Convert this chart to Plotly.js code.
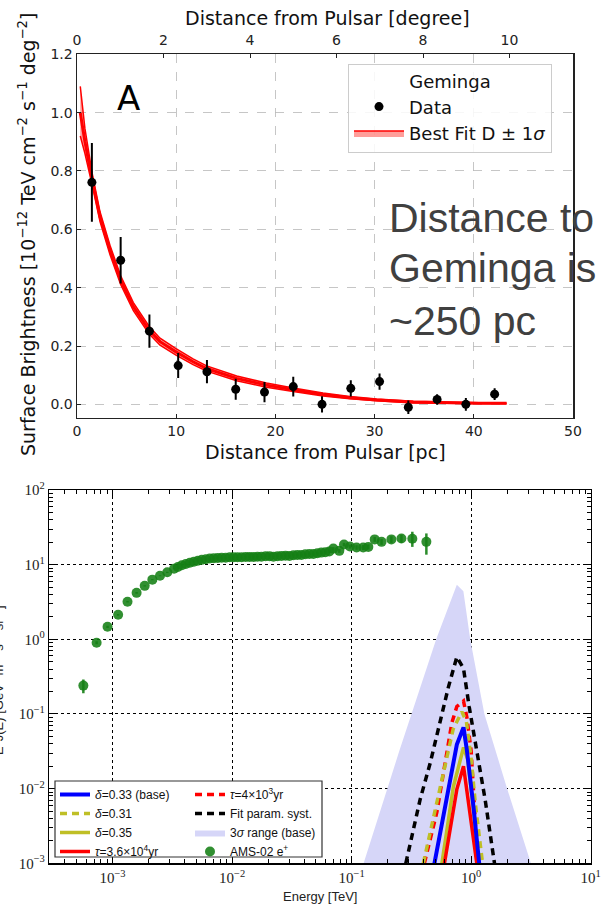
<!DOCTYPE html>
<html>
<head>
<meta charset="utf-8">
<script src="https://cdn.plot.ly/plotly-3.0.1.min.js"></script>
<style>html,body{margin:0;padding:0;background:#fff;} #chart{width:606px;height:906px;}</style>
</head>
<body>
<div id="chart"></div>
<script>
// ---------- Panel A: Geminga surface brightness ----------
const pcDist     = [1.5, 4.4, 7.3, 10.2, 13.1, 16.0, 18.9, 21.8, 24.7, 27.6, 30.5, 33.4, 36.3, 39.2, 42.1];
const brightness = [0.761, 0.494, 0.251, 0.133, 0.112, 0.052, 0.042, 0.061, 0.0, 0.055, 0.078, -0.01, 0.017, 0.0, 0.035];
const brightErr  = [0.135, 0.08, 0.057, 0.043, 0.04, 0.036, 0.035, 0.034, 0.028, 0.028, 0.028, 0.023, 0.018, 0.022, 0.02];

const fitX   = [0.33, 0.8, 1.54, 2.32, 3.33, 4.4, 5.68, 7.26, 8.37, 9.98, 11.7, 13.07, 16.1, 19.1, 21.8, 24.8, 27.5, 30.2, 33.9, 37.5, 40.5, 43.3];
const fitMid = [1.00, 0.90, 0.769, 0.643, 0.529, 0.426, 0.335, 0.255, 0.215, 0.180, 0.146, 0.123, 0.089, 0.066, 0.050, 0.034, 0.023, 0.015, 0.008, 0.005, 0.004, 0.0035];
const fitHi  = [1.09, 0.945, 0.79, 0.66, 0.545, 0.441, 0.349, 0.268, 0.227, 0.191, 0.156, 0.132, 0.097, 0.073, 0.056, 0.039, 0.027, 0.018, 0.011, 0.007, 0.0055, 0.005];
const fitLo  = [0.92, 0.86, 0.75, 0.627, 0.513, 0.411, 0.321, 0.242, 0.203, 0.169, 0.136, 0.114, 0.081, 0.059, 0.044, 0.029, 0.019, 0.012, 0.005, 0.003, 0.0025, 0.002];

// ---------- Panel B: positron spectrum (TeV, E^3 J(E)) ----------
const amsE = [0.00057, 0.000736, 0.000908, 0.001114, 0.001334, 0.00159, 0.001858, 0.002153, 0.002495, 0.002871,
  0.00327, 0.00352, 0.0038, 0.0041, 0.00443, 0.00479, 0.00517, 0.00558, 0.00603, 0.00651,
  0.00703, 0.00759, 0.00819, 0.00885, 0.00955, 0.0103, 0.0111, 0.012, 0.013, 0.014,
  0.0151, 0.0163, 0.0176, 0.0191, 0.0206, 0.0222, 0.024, 0.0259, 0.028, 0.0302,
  0.0326, 0.0352, 0.038, 0.041, 0.0443, 0.0479, 0.0517, 0.0558, 0.0603, 0.0651,
  0.0703, 0.0789, 0.0863, 0.0968, 0.110, 0.125, 0.138, 0.156, 0.178, 0.215,
  0.261, 0.322, 0.422];
const amsFlux = [0.24, 0.90, 1.47, 2.13, 3.19, 4.19, 5.2, 6.3, 7.1, 7.9,
  8.83, 9.29, 9.8, 10.2, 10.6, 10.97, 11.3, 11.6, 11.8, 12.1,
  12.2, 12.3, 12.4, 12.4, 12.6, 12.6, 12.6, 12.6, 12.7, 12.7,
  12.7, 12.8, 12.8, 13.0, 13.0, 12.8, 13.0, 13.1, 13.2, 13.1,
  13.4, 13.5, 13.5, 13.8, 13.9, 13.9, 14.2, 14.5, 14.7, 15.0,
  16.4, 15.3, 18.6, 17.5, 17.0, 17.0, 17.3, 21.8, 20.2, 21.8,
  22.4, 22.2, 20.2];
const amsErrUp = [0.05, 0.04, 0.05, 0.06, 0.08, 0.1, 0.1, 0.12, 0.12, 0.14,
  0.14, 0.15, 0.15, 0.15, 0.16, 0.16, 0.17, 0.17, 0.17, 0.18,
  0.18, 0.18, 0.19, 0.19, 0.2, 0.2, 0.2, 0.21, 0.22, 0.22,
  0.23, 0.24, 0.25, 0.26, 0.27, 0.28, 0.3, 0.32, 0.34, 0.36,
  0.38, 0.4, 0.42, 0.45, 0.48, 0.5, 0.55, 0.6, 0.65, 0.7,
  0.8, 0.9, 1.0, 1.1, 1.2, 1.3, 1.4, 1.6, 1.8, 2.2,
  2.8, 5.4, 6.0];
const amsErrDn = [0.05, 0.04, 0.05, 0.06, 0.08, 0.1, 0.1, 0.12, 0.12, 0.14,
  0.14, 0.15, 0.15, 0.15, 0.16, 0.16, 0.17, 0.17, 0.17, 0.18,
  0.18, 0.18, 0.19, 0.19, 0.2, 0.2, 0.2, 0.21, 0.22, 0.22,
  0.23, 0.24, 0.25, 0.26, 0.27, 0.28, 0.3, 0.32, 0.34, 0.36,
  0.38, 0.4, 0.42, 0.45, 0.48, 0.5, 0.55, 0.6, 0.65, 0.7,
  0.8, 0.9, 1.0, 1.1, 1.2, 1.3, 1.4, 1.6, 1.8, 2.2,
  2.8, 4.9, 6.6];

const sigmaE = [0.126, 0.25, 0.51, 0.759, 0.861, 0.982, 1.29, 2.0, 3.16];
const sigmaF = [0.001, 0.0316, 1.0, 5.4, 4.4, 1.0, 0.1, 0.01, 0.001];

const systE = [0.284, 0.374, 0.454, 0.533, 0.646, 0.759, 0.863, 0.962, 1.114, 1.309, 1.567];
const systF = [0.001, 0.00713, 0.0219, 0.0676, 0.231, 0.581, 0.407, 0.126, 0.0331, 0.00713, 0.001];

const tau4E = [0.406, 0.516, 0.605, 0.689, 0.759, 0.863, 0.920, 1.0, 1.135];
const tau4F = [0.001, 0.00479, 0.0219, 0.0759, 0.126, 0.149, 0.0912, 0.0316, 0.001];

const d31E = [0.398, 0.501, 0.603, 0.708, 0.836, 0.912, 1.0, 1.084, 1.245];
const d31F = [0.001, 0.00501, 0.02, 0.0631, 0.107, 0.0794, 0.0251, 0.00631, 0.001];

const d35E = [0.569, 0.711, 0.863, 0.933, 1.047, 1.153];
const d35F = [0.001, 0.0107, 0.0355, 0.0251, 0.005, 0.001];

const tau36E = [0.598, 0.759, 0.863, 0.955, 1.114];
const tau36F = [0.001, 0.00977, 0.02, 0.0063, 0.001];

const baseE = [0.493, 0.646, 0.759, 0.863, 0.920, 1.045, 1.167];
const baseF = [0.001, 0.0107, 0.0389, 0.0661, 0.0331, 0.00575, 0.001];

const degTicks = [0, 2, 4, 6, 8, 10];
const logTickVals = [0.001, 0.01, 0.1, 1, 10, 100];
const logTickText = ['10<sup>−3</sup>', '10<sup>−2</sup>', '10<sup>−1</sup>', '10<sup>0</sup>', '10<sup>1</sup>', '10<sup>2</sup>'];

// ---------- helpers ----------
const W = 606, H = 906;
const px = X => X / W;
const py = Y => 1 - Y / H;
const DJ = 'DejaVu Sans, sans-serif';
const SANS = 'Liberation Sans, Arial, sans-serif';
const SERIF = 'Liberation Serif, Times New Roman, serif';
const YEL = '#bfbf26';

const traces = [
  // Panel A
  {x: fitX, y: fitLo, xaxis: 'x', yaxis: 'y', mode: 'lines', line: {color: 'red', width: 1.5},
   showlegend: false, hoverinfo: 'skip'},
  {x: fitX, y: fitHi, xaxis: 'x', yaxis: 'y', mode: 'lines', line: {color: 'red', width: 1.5},
   fill: 'tonexty', fillcolor: 'rgba(255,40,30,0.45)', name: 'Best Fit D ± 1<i>σ</i>',
   legend: 'legend', legendrank: 2},
  {x: fitX, y: fitMid, xaxis: 'x', yaxis: 'y', mode: 'lines', line: {color: 'red', width: 3},
   showlegend: false},
  {x: pcDist, y: brightness, xaxis: 'x', yaxis: 'y', mode: 'markers', name: 'Data',
   marker: {color: 'black', size: 9},
   error_y: {type: 'data', array: brightErr, visible: true, color: 'black', thickness: 2, width: 0},
   legend: 'legend', legendrank: 1},
  // invisible trace so the top (degree) axis is drawn
  {x: degTicks, y: degTicks.map(() => null), xaxis: 'x2', yaxis: 'y', mode: 'markers',
   showlegend: false, hoverinfo: 'skip'},

  // Panel B
  {x: sigmaE, y: sigmaF, xaxis: 'x3', yaxis: 'y3', mode: 'lines', fill: 'toself',
   fillcolor: '#d6d6f8', line: {width: 0, color: '#d6d6f8'}, name: '3<i>σ</i> range (base)',
   legend: 'legend3', legendrank: 3},
  {x: systE, y: systF, xaxis: 'x3', yaxis: 'y3', mode: 'lines', name: 'Fit param. syst.',
   line: {color: 'black', width: 3.5, dash: '7px,5px'}, legend: 'legend3', legendrank: 2},
  {x: tau4E, y: tau4F, xaxis: 'x3', yaxis: 'y3', mode: 'lines', name: '<i>τ</i>=4×10<sup>3</sup>yr',
   line: {color: 'red', width: 3.5, dash: '7px,5px'}, legend: 'legend3', legendrank: 1},
  {x: d31E, y: d31F, xaxis: 'x3', yaxis: 'y3', mode: 'lines', name: '<i>δ</i>=0.31',
   line: {color: YEL, width: 3.5, dash: '7px,5px'}, legend: 'legend2', legendrank: 2},
  {x: d35E, y: d35F, xaxis: 'x3', yaxis: 'y3', mode: 'lines', name: '<i>δ</i>=0.35',
   line: {color: YEL, width: 3.5}, legend: 'legend2', legendrank: 3},
  {x: tau36E, y: tau36F, xaxis: 'x3', yaxis: 'y3', mode: 'lines', name: '<i>τ</i>=3.6×10<sup>4</sup>yr',
   line: {color: 'red', width: 3.5}, legend: 'legend2', legendrank: 4},
  {x: baseE, y: baseF, xaxis: 'x3', yaxis: 'y3', mode: 'lines', name: '<i>δ</i>=0.33 (base)',
   line: {color: '#0000ff', width: 4}, legend: 'legend2', legendrank: 1},
  {x: amsE, y: amsFlux, xaxis: 'x3', yaxis: 'y3', mode: 'markers', name: 'AMS-02 e<sup>+</sup>',
   marker: {color: 'rgba(20,128,20,0.88)', size: 10},
   error_y: {type: 'data', array: amsErrUp, arrayminus: amsErrDn, visible: true,
             color: 'rgba(20,128,20,0.9)', thickness: 2.5, width: 0},
   legend: 'legend3', legendrank: 4}
];

const topAxisCommon = {
  showline: true, linecolor: '#222', linewidth: 1.5, mirror: true,
  ticks: 'inside', ticklen: 4, tickcolor: '#222', tickwidth: 1,
  showgrid: true, gridcolor: '#b8b8b8', griddash: 'dash', gridwidth: 0.8,
  zeroline: false, tickfont: {family: DJ, size: 14, color: '#222'}
};

const botAxisCommon = {
  type: 'log', showline: true, linecolor: 'black', linewidth: 1.5, mirror: 'allticks',
  ticks: 'inside', ticklen: 7, tickcolor: 'black', tickwidth: 1,
  tickmode: 'array', tickvals: logTickVals, ticktext: logTickText,
  minor: {ticks: 'inside', ticklen: 4, tickcolor: 'black', dtick: 'D1', showgrid: false},
  showgrid: true, gridcolor: 'black', griddash: 'dot', gridwidth: 1,
  zeroline: false, tickfont: {family: SERIF, size: 15, color: '#222'}
};

const legendB = {
  yanchor: 'top', xanchor: 'left',
  font: {family: SANS, size: 12, color: '#111'},
  bgcolor: 'rgba(0,0,0,0)', borderwidth: 0, itemwidth: 30, traceorder: 'normal', tracegroupgap: 0
};

const layout = {
  width: W, height: H,
  margin: {l: 0, r: 0, t: 0, b: 0},
  paper_bgcolor: 'white', plot_bgcolor: 'white',
  showlegend: true,
  xaxis: Object.assign({}, topAxisCommon, {
    domain: [px(77), px(573)], anchor: 'y', range: [0, 50], dtick: 10, tick0: 0
  }),
  xaxis2: Object.assign({}, topAxisCommon, {
    overlaying: 'x', side: 'top', anchor: 'y', range: [0, 11.468],
    tickmode: 'array', tickvals: degTicks, showgrid: false, showline: false, ticklabelstandoff: 6
  }),
  yaxis: Object.assign({}, topAxisCommon, {
    domain: [py(417.5), py(54.3)], anchor: 'x', range: [-0.045, 1.2], dtick: 0.2, tick0: 0,
    tickformat: '.1f'
  }),
  xaxis3: Object.assign({}, botAxisCommon, {
    domain: [px(49.3), px(590.7)], anchor: 'y3', range: [-3.529, 1]
  }),
  yaxis3: Object.assign({}, botAxisCommon, {
    domain: [py(863.3), py(490)], anchor: 'x3', range: [-3, 2]
  }),
  legend: {
    x: px(348), y: py(64), xanchor: 'left', yanchor: 'top',
    title: {text: 'Geminga', side: 'top center', font: {family: DJ, size: 18, color: '#111'}},
    font: {family: DJ, size: 18, color: '#111'},
    bgcolor: 'rgba(255,255,255,0.85)', bordercolor: '#cccccc', borderwidth: 1,
    itemwidth: 50, traceorder: 'normal'
  },
  legend2: Object.assign({}, legendB, {x: px(55), y: py(780)}),
  legend3: Object.assign({}, legendB, {x: px(190), y: py(780)}),
  shapes: [
    {type: 'rect', xref: 'paper', yref: 'paper', x0: px(55), x1: px(322), y0: py(857), y1: py(781),
     fillcolor: 'white', line: {color: '#333', width: 1.2}, layer: 'above'}
  ],
  annotations: [
    {text: 'Distance from Pulsar [degree]', xref: 'paper', yref: 'paper', x: px(327), y: py(18),
     xanchor: 'center', yanchor: 'middle', showarrow: false, font: {family: DJ, size: 19, color: '#111'}},
    {text: 'Distance from Pulsar [pc]', xref: 'paper', yref: 'paper', x: px(325), y: py(452),
     xanchor: 'center', yanchor: 'middle', showarrow: false, font: {family: DJ, size: 19, color: '#111'}},
    {text: 'Surface Brightness [10<sup>−12</sup> TeV cm<sup>−2</sup> s<sup>−1</sup> deg<sup>−2</sup>]',
     xref: 'paper', yref: 'paper', x: px(27), y: py(234), textangle: -90,
     xanchor: 'center', yanchor: 'middle', showarrow: false, font: {family: DJ, size: 19, color: '#111'}},
    {text: 'A', xref: 'paper', yref: 'paper', x: px(128.5), y: py(98),
     xanchor: 'center', yanchor: 'middle', showarrow: false, font: {family: DJ, size: 34, color: '#000'}},
    {text: 'Distance to', xref: 'paper', yref: 'paper', x: px(387), y: py(218),
     xanchor: 'left', yanchor: 'middle', showarrow: false, font: {family: SANS, size: 41, color: '#404040'}},
    {text: 'Geminga is', xref: 'paper', yref: 'paper', x: px(387), y: py(268),
     xanchor: 'left', yanchor: 'middle', showarrow: false, font: {family: SANS, size: 41, color: '#404040'}},
    {text: '~250 pc', xref: 'paper', yref: 'paper', x: px(387), y: py(321),
     xanchor: 'left', yanchor: 'middle', showarrow: false, font: {family: SANS, size: 41, color: '#404040'}},
    {text: 'Energy [TeV]', xref: 'paper', yref: 'paper', x: px(320), y: py(896),
     xanchor: 'center', yanchor: 'middle', showarrow: false, font: {family: SANS, size: 13, color: '#222'}},
    {text: 'E<sup>3</sup>J(E) [GeV<sup>2</sup> m<sup>−2</sup> s<sup>−1</sup> sr<sup>−1</sup>]',
     xref: 'paper', yref: 'paper', x: px(-2), y: py(680), textangle: -90,
     xanchor: 'center', yanchor: 'middle', showarrow: false, font: {family: SANS, size: 13, color: '#222'}}
  ]
};

Plotly.newPlot('chart', traces, layout, {displayModeBar: false, staticPlot: true});
</script>
</body>
</html>
